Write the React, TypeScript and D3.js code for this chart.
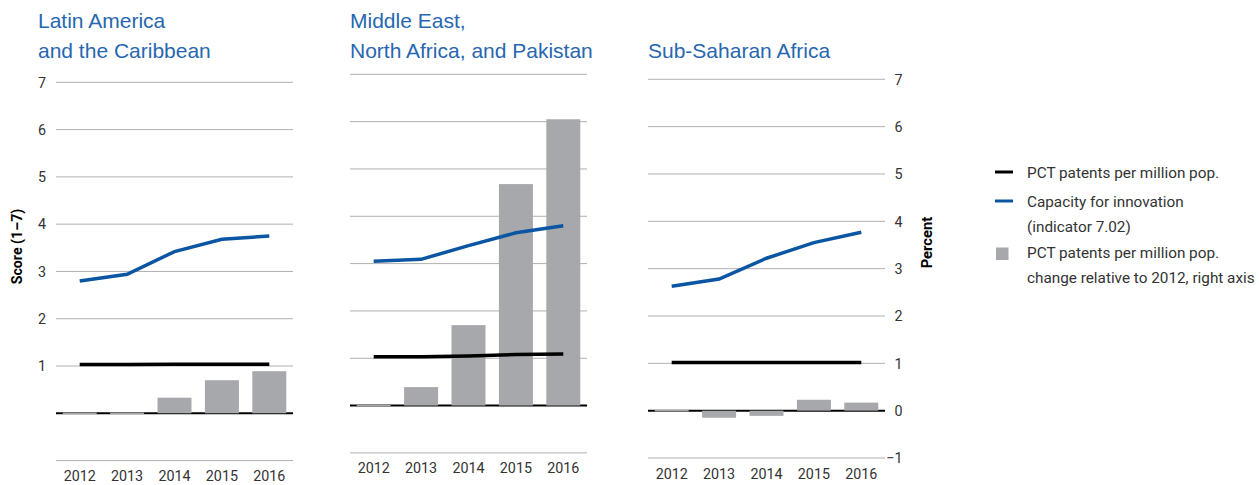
import React from 'react';
import * as d3 from 'd3';

const years = ['2012', '2013', '2014', '2015', '2016'];

const latamCapacity = [2.8, 2.94, 3.42, 3.68, 3.75];
const latamPct = [1.03, 1.03, 1.04, 1.04, 1.04];
const latamChange = [0, 0.01, 0.33, 0.7, 0.89];

const menapCapacity = [3.05, 3.09, 3.38, 3.65, 3.8];
const menapPct = [1.03, 1.03, 1.05, 1.08, 1.09];
const menapChange = [0, 0.39, 1.7, 4.68, 6.05];

const ssaCapacity = [2.63, 2.78, 3.22, 3.55, 3.77];
const ssaPct = [1.02, 1.02, 1.02, 1.02, 1.02];
const ssaChange = [0, -0.15, -0.11, 0.23, 0.17];

const leftTicks = [1, 2, 3, 4, 5, 6, 7];
const rightTicks = [-1, 0, 1, 2, 3, 4, 5, 6, 7];
const gridValues = [-1, 0, 1, 2, 3, 4, 5, 6, 7];

const legendItems = [
  { kind: 'line', color: '#000000', lines: ['PCT patents per million pop.'] },
  { kind: 'line', color: '#0b56a2', lines: ['Capacity for innovation', '(indicator 7.02)'] },
  { kind: 'rect', color: '#a7a8ab', lines: ['PCT patents per million pop.', 'change relative to 2012, right axis'] },
];

const BLUE = '#0b56a2';
const GREY_BAR = '#a7a8ab';
const GRID = '#b0b0b0';
const TITLE = '#2767b0';
const NARROW = "'Roboto', sans-serif";
const SANS = "'Liberation Sans', Arial, sans-serif";
const TICK_SIZE = 14.3;

type PanelProps = {
  title: string[];
  x0: number;
  x1: number;
  yTop: number;
  yBottom: number;
  capacity: number[];
  pct: number[];
  change: number[];
  leftAxis?: boolean;
  rightAxis?: boolean;
};

function Panel({ title, x0, x1, yTop, yBottom, capacity, pct, change, leftAxis, rightAxis }: PanelProps) {
  const x = d3.scaleBand<string>().domain(years).range([x0, x1]).paddingInner(0.283).paddingOuter(0.1415);
  const y = d3.scaleLinear().domain([-1, 7]).range([yBottom, yTop]);
  const cx = (yr: string) => (x(yr) as number) + x.bandwidth() / 2;
  const line = d3
    .line<number>()
    .x((_, i) => cx(years[i]))
    .y((d) => y(d));
  return (
    <g>
      {title.map((t, i) => (
        <text key={t + i} x={leftAxis ? x0 - 18 : x0} y={27.7 + i * 30} fontFamily={SANS} fontSize={21} fill={TITLE}>
          {t}
        </text>
      ))}
      {gridValues
        .filter((v) => v !== 0)
        .map((v) => (
          <line key={v} x1={x0} x2={x1} y1={y(v)} y2={y(v)} stroke={GRID} strokeWidth={1} />
        ))}
      <line x1={x0} x2={x1} y1={y(0)} y2={y(0)} stroke="#000" strokeWidth={2} />
      {change.map((v, i) => {
        const y0 = y(0);
        const yv = y(v);
        const tiny = Math.abs(yv - y0) < 1.5;
        return (
          <rect
            key={years[i]}
            x={x(years[i])}
            y={tiny ? y0 - 0.75 : Math.min(yv, y0)}
            width={x.bandwidth()}
            height={tiny ? 1.5 : Math.abs(yv - y0)}
            fill={GREY_BAR}
          />
        );
      })}
      <path d={line(pct) || ''} fill="none" stroke="#000" strokeWidth={3.5} />
      <path d={line(capacity) || ''} fill="none" stroke={BLUE} strokeWidth={3.5} />
      {years.map((yr) => (
        <text key={yr} x={cx(yr)} y={yBottom + 20.5} textAnchor="middle" fontFamily={NARROW} fontSize={TICK_SIZE} fill="#333">
          {yr}
        </text>
      ))}
      {leftAxis &&
        leftTicks.map((v) => (
          <text key={v} x={x0 - 10} y={y(v) + 5.2} textAnchor="end" fontFamily={NARROW} fontSize={TICK_SIZE} fill="#333">
            {v}
          </text>
        ))}
      {rightAxis &&
        rightTicks.map((v) => (
          <text key={v} x={x1 + 17.5} y={y(v) + 5.2} textAnchor="end" fontFamily={NARROW} fontSize={TICK_SIZE} fill="#333">
            {v < 0 ? '\u2212' + Math.abs(v) : v}
          </text>
        ))}
    </g>
  );
}

export default function App() {
  return (
    <svg
      width={1259}
      height={485}
      style={{ position: 'absolute', left: 0, top: 0, background: '#fff' }}
    >
      <Panel
        title={['Latin America', 'and the Caribbean']}
        x0={56}
        x1={293}
        yTop={82.3}
        yBottom={460.6}
        capacity={latamCapacity}
        pct={latamPct}
        change={latamChange}
        leftAxis
      />
      <Panel
        title={['Middle East,', 'North Africa, and Pakistan']}
        x0={350}
        x1={587}
        yTop={74.3}
        yBottom={452.9}
        capacity={menapCapacity}
        pct={menapPct}
        change={menapChange}
      />
      <Panel
        title={['', 'Sub-Saharan Africa']}
        x0={648}
        x1={885}
        yTop={79.3}
        yBottom={458}
        capacity={ssaCapacity}
        pct={ssaPct}
        change={ssaChange}
        rightAxis
      />
      <text
        transform="translate(22,246.5) rotate(-90)"
        textAnchor="middle"
        fontFamily={NARROW}
        fontWeight="bold"
        fontSize={14.2}
        fill="#000"
      >
        Score (1–7)
      </text>
      <text
        transform="translate(932,242.5) rotate(-90)"
        textAnchor="middle"
        fontFamily={NARROW}
        fontWeight="bold"
        fontSize={14.8}
        fill="#000"
      >
        Percent
      </text>
      {(() => {
        const baselines = [177.5, 206.5, 257.5];
        return legendItems.map((item, i) => {
          const b = baselines[i];
          return (
            <g key={i}>
              {item.kind === 'line' ? (
                <line x1={995} x2={1013} y1={b - 5.5} y2={b - 5.5} stroke={item.color} strokeWidth={3} />
              ) : (
                <rect x={996} y={b - 10} width={12.5} height={12.5} fill={item.color} />
              )}
              {item.lines.map((t, j) => (
                <text key={j} x={1027} y={b + j * 25} fontFamily={NARROW} fontSize={15.3} fill="#333">
                  {t}
                </text>
              ))}
            </g>
          );
        });
      })()}
    </svg>
  );
}
